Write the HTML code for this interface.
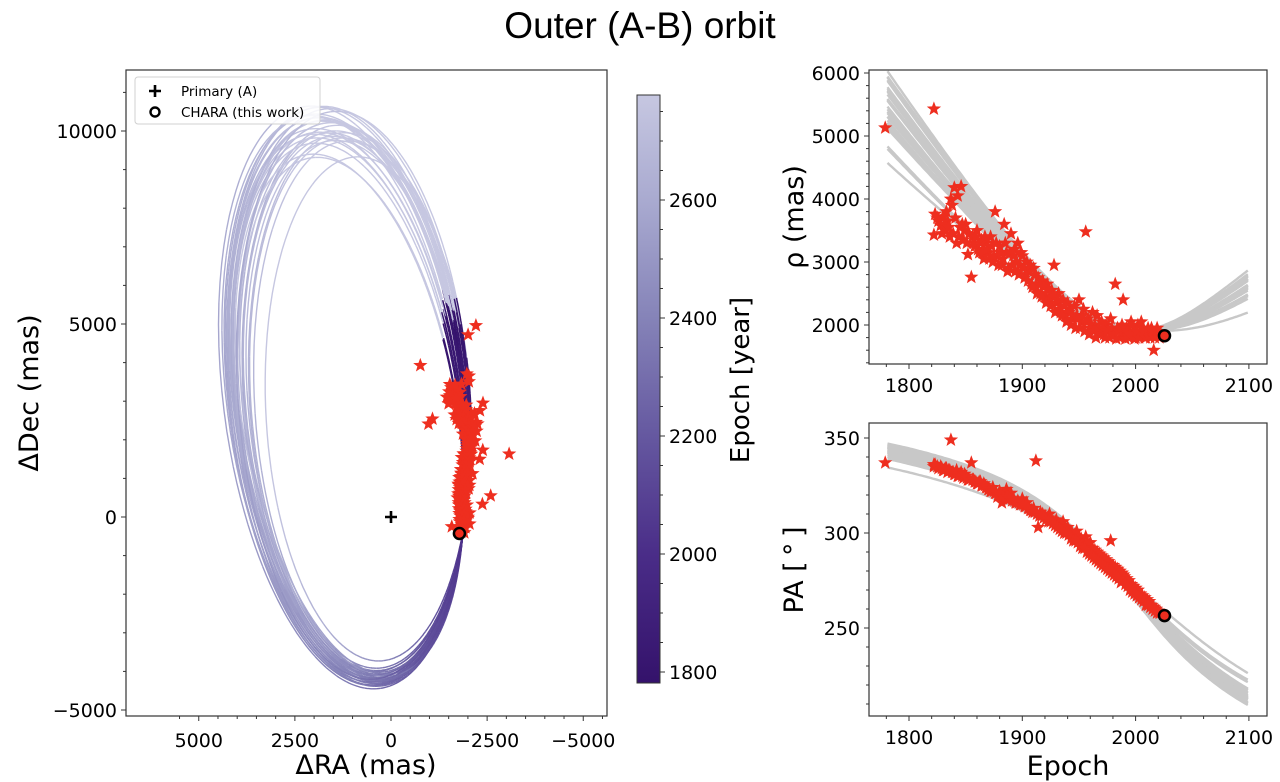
<!DOCTYPE html>
<html><head><meta charset="utf-8">
<style>
html,body{margin:0;padding:0;background:#fff;}
svg{display:block;}
text{font-family:"DejaVu Sans","Liberation Sans",sans-serif;fill:#000;}
</style></head>
<body>
<svg id="fig" width="1280" height="782" viewBox="0 0 1280 782" xmlns="http://www.w3.org/2000/svg">
<defs>
<clipPath id="clipMain"><rect x="126" y="70" width="481" height="646"/></clipPath>
<clipPath id="clipRho"><rect x="869" y="70" width="398" height="294"/></clipPath>
<clipPath id="clipPA"><rect x="869" y="423" width="398" height="293"/></clipPath>
<linearGradient id="cbGrad" x1="0" y1="1" x2="0" y2="0">
<stop offset="0" stop-color="#34126b"/><stop offset="0.22" stop-color="#4a2d88"/><stop offset="0.42" stop-color="#6558a0"/><stop offset="0.62" stop-color="#8583b8"/><stop offset="0.82" stop-color="#a9aad0"/><stop offset="1" stop-color="#c6c7e1"/>
</linearGradient>
</defs>
<text x="640" y="38" text-anchor="middle" style="font-family:'Liberation Sans',sans-serif;font-size:37px">Outer (A-B) orbit</text>
<g id="main"></g>
<g id="cbar"></g>
<g id="rho"></g>
<g id="pa"></g>
</svg>
<script>
// ---------- data ----------
const obsEpoch=[1779,1822,1822,1823,1826,1828,1830,1832,1834,1836,1837,1838,1840,1842,1843,1845,1846,1848,1850,1852,1855,1856,1858,1860,1862,1864,1866,1868,1870,1872,1874,1876,1878,1880,1882,1884,1886,1888,1890,1892,1894,1896,1898,1900,1902,1904,1906,1908,1910,1912,1914,1916,1918,1920,1922,1924,1926,1928,1930,1932,1934,1936,1938,1940,1942,1944,1946,1948,1950,1952,1954,1956,1958,1960,1962,1964,1966,1968,1970,1972,1974,1976,1978,1980,1982,1984,1986,1988,1989,1990,1992,1994,1996,1998,2000,2002,2004,2006,2008,2010,2012,2014,2016,2018,2020,2022,
1825,1829,1831,1833,1835,1839,1841,1844,1847,1849,1851,1853,1857,1859,1861,1863,1865,1867,1869,1871,1873,1875,1877,1879,1881,1883,1885,1887,1889,1891,1893,1895,1897,1899,1901,1903,1905,1907,1909,1911,1913,1915,1917,1919,1921,1923,1925,1927,1929,1931,1933,1935,1937,1939,1941,1943,1945,1947,1949,1951,1953,1955,1957,1959,1961,1963,1965,1967,1969,1971,1973,1975,1977,1979,1981,1983,1985,1987,1991,1993,1995,1997,1999,2001,2003,2005,2007,2009,2011,2013,2015,2017,2019,2021];
const obsRho=[5130,5430,3430,3760,3650,3580,3720,3500,3650,3400,4000,3900,4180,3300,4050,3550,4200,3350,3600,3120,2760,3400,3250,3500,3150,3350,3050,3300,3150,3400,3000,3800,3100,3250,2950,3600,3150,2900,3450,3100,2850,3300,2950,3100,2750,3000,2850,2650,2900,2600,2750,2500,2700,2450,2650,2400,2550,2950,2350,2500,2200,2400,2150,2350,2250,2100,2300,2150,2400,2050,2250,3480,2100,1950,2200,2000,2150,1900,2050,1850,2000,1900,2100,1850,2650,1950,1800,2000,2400,1850,1950,1800,2050,1900,1800,2000,1850,1950,1800,1900,1850,1950,1600,1900,1850,1870,
3700,3450,3600,3800,3550,3450,3700,3400,3600,3500,3300,3450,3300,3400,3200,3300,3150,3400,3200,3050,3250,3100,3300,2950,3150,3050,3300,2850,3150,2950,3200,3000,2800,3150,2900,2800,2700,2950,2600,2800,2500,2650,2450,2600,2350,2550,2300,2450,2200,2400,2250,2150,2300,2050,2200,2000,2150,1950,2100,1950,2150,1900,2050,1850,2000,1900,1800,1950,1850,1950,1800,1900,1800,1950,1850,1780,1900,1950,1780,1900,1850,2000,1780,1900,1800,2050,1900,1800,1950,1800,1900,1800,1950,1800];
const obsPA=[337,336,335,336,334,335,333,334,332,333,349,332,331,333,330,331,332,329,330,328,337,328,327,326,327,325,326,324,323,322,324,321,319,322,316,320,323,318,321,318,316,317,315,318,314,316,313,312,313,338,303,311,310,309,308,310,307,306,307,305,304,306,302,303,301,300,299,301,298,297,295,298,294,295,292,291,290,289,288,287,286,285,296,283,282,281,280,279,278,277,276,275,273,272,271,270,268,267,266,265,264,262,261,260,259,258,
335,334,333,334,333,332,331,330,330,331,329,328,328,327,326,327,325,325,324,323,322,322,321,320,320,319,318,319,318,317,317,316,316,315,315,314,313,312,311,311,310,309,309,308,307,306,306,305,304,303,302,301,300,300,299,297,296,296,295,293,292,292,290,289,288,287,286,285,284,283,282,281,280,279,278,277,276,274,273,272,270,269,268,267,266,265,264,262,262,261,260,259,258,258];
const charaEpoch=2025.5, charaRho=1830, charaPA=256.5;
// orbit model family (scale about CHARA point, rotation in deg, period in yr)
const orbScale=[0.96,0.93,0.98,0.91,0.95,0.99,0.92,0.94,0.97,0.90,1.00,0.93,0.95,0.89,0.96,0.92,0.98,0.94,0.91,0.97,0.86,0.93,0.99,0.95,0.90,0.96,0.94,0.97,0.92,0.98];
const orbRot=[0,1.2,-0.8,2.0,-1.5,0.6,-2.2,1.8,-0.4,2.6,-1.0,0.3,1.0,-2.8,-0.2,2.4,1.5,-1.2,0.8,-0.6,3.5,-1.8,0.2,1.1,-3.2,0.4,-2.0,2.2,0.7,-1.4];
const orbPeriod=[1000,1040,980,1080,1010,990,1060,1020,1000,1100,970,1050,1030,1120,1010,1070,995,1045,1090,1005,1250,1065,985,1025,1150,1035,1015,975,1055,1000];
const xTicksMain=[5000,2500,0,-2500,-5000];
const yTicksMain=[-5000,0,5000,10000];
const cbTicks=[1800,2000,2200,2400,2600];
const epochTicks=[1800,1900,2000,2100];
const rhoTicks=[2000,3000,4000,5000,6000];
const paTicks=[250,300,350];
const tMin=1781, tMax=2777;

// ---------- scales ----------
const xRA=ra=>391-ra*0.03845, yDec=d=>517-d*0.0386;
const xE=t=>909+(t-1800)*1.133;
const yR=v=>325-(v-2000)*0.063;
const yP=v=>628-(v-250)*1.9;
const yCB=t=>672-(t-1800)*0.59;

const NS='http://www.w3.org/2000/svg';
function mk(tag,attrs,parent){const e=document.createElementNS(NS,tag);for(const k in attrs)e.setAttribute(k,attrs[k]);parent.appendChild(e);return e;}
function txt(s,attrs,parent){const e=mk('text',attrs,parent);e.textContent=s;return e;}

// ---------- orbit model ----------
const C=[1200,3150],A=7600,B=3100,U=[0.11,0.994],V=[0.994,-0.11],P0=[-1780,-420];
const ECC=0.75,T_APO=1940,PHI_APO=254;
function kepE(M,e){let E=M;for(let i=0;i<40;i++){E-= (E-e*Math.sin(E)-M)/(1-e*Math.cos(E));}return E;}
function orbPos(t,k){
  const P=orbPeriod[k];const M=Math.PI+2*Math.PI*(t-T_APO)/P;
  const E=kepE(M,ECC);const phi=(PHI_APO*Math.PI/180)-(E-Math.PI);
  const ra=C[0]+A*Math.cos(phi)*U[0]+B*Math.sin(phi)*V[0];
  const de=C[1]+A*Math.cos(phi)*U[1]+B*Math.sin(phi)*V[1];
  const s=orbScale[k],r=orbRot[k]*Math.PI/180;
  const dx=ra-P0[0],dy=de-P0[1];
  return [P0[0]+s*(Math.cos(r)*dx-Math.sin(r)*dy),P0[1]+s*(Math.sin(r)*dx+Math.cos(r)*dy)];
}
function colourEpoch(t){return t<2200?t:Math.min(tMax,2200+(t-2200)*1.7);}
const stops=[[0,[52,18,107]],[0.22,[74,45,136]],[0.42,[101,88,160]],[0.62,[133,131,184]],[0.82,[169,170,208]],[1,[198,199,225]]];
function cmap(t){let f=(t-tMin)/(tMax-tMin);f=Math.max(0,Math.min(1,f));
  for(let i=1;i<stops.length;i++){if(f<=stops[i][0]){const a=stops[i-1],b=stops[i];const w=(f-a[0])/(b[0]-a[0]);
    const c=a[1].map((v,j)=>Math.round(v+(b[1][j]-v)*w));return `rgb(${c[0]},${c[1]},${c[2]})`;}}return 'rgb(198,199,225)';}
function starPts(cx,cy,R){let p=[];for(let i=0;i<10;i++){const r=i%2?R*0.42:R;const a=-Math.PI/2+i*Math.PI/5;p.push((cx+r*Math.cos(a)).toFixed(1)+','+(cy+r*Math.sin(a)).toFixed(1));}return p.join(' ');}
function obsRA(i){return obsRho[i]*Math.sin(obsPA[i]*Math.PI/180);}
function obsDec(i){return obsRho[i]*Math.cos(obsPA[i]*Math.PI/180);}

// ---------- main panel ----------
const main=document.getElementById('main');
const gLines=mk('g',{'clip-path':'url(#clipMain)'},main);


for(let k=0;k<orbScale.length;k++){
  const step=3;const tEnd=tMin+orbPeriod[k];
  for(let t0=tMin;t0<tEnd;t0+=step*4){
    let pts=[];
    for(let t=t0;t<=Math.min(t0+step*4,tEnd);t+=step){const p=orbPos(t,k);pts.push(xRA(p[0]).toFixed(1)+','+yDec(p[1]).toFixed(1));}
    const pl=mk('polyline',{points:pts.join(' '),fill:'none',stroke:cmap(colourEpoch(t0+step*2)),'stroke-width':1.4},gLines);
    
    
  }
}
const gStars=mk('g',{'clip-path':'url(#clipMain)'},main);
for(let i=0;i<obsEpoch.length;i++){
  const s=mk('polygon',{points:starPts(xRA(obsRA(i)),yDec(obsDec(i)),7.5),fill:'#ee2e1f'},gStars);
  
  
}
const prim=mk('path',{d:`M${xRA(0)-6},${yDec(0)}h12M${xRA(0)},${yDec(0)-6}v12`,stroke:'#000','stroke-width':2.6},main);


const chRA=charaRho*Math.sin(charaPA*Math.PI/180),chDec=charaRho*Math.cos(charaPA*Math.PI/180);
const chm=mk('circle',{cx:xRA(chRA),cy:yDec(chDec),r:5.5,fill:'#ee2e1f',stroke:'#000','stroke-width':2.5},main);


mk('rect',{x:126,y:70,width:481,height:646,fill:'none',stroke:'#333','stroke-width':1.2},main);
for(const v of xTicksMain){const x=xRA(v);mk('line',{x1:x,y1:716,x2:x,y2:721,stroke:'#333'},main);
  const l=txt(String(v).replace('-','\u2212'),{x:x,y:747,'text-anchor':'middle','font-size':19},main);
  
  }
for(let v=-6500;v<=5500;v+=500){if(v%2500===0)continue;const x=xRA(v);if(x<126||x>607)continue;mk('line',{x1:x,y1:716,x2:x,y2:719,stroke:'#333'},main);}
for(const v of yTicksMain){const y=yDec(v);mk('line',{x1:121,y1:y,x2:126,y2:y,stroke:'#333'},main);
  const l=txt(String(v).replace('-','\u2212'),{x:117,y:y+7,'text-anchor':'end','font-size':19},main);
  
  }
for(let v=-5000;v<=11000;v+=1000){if(v%5000===0)continue;const y=yDec(v);if(y<70||y>716)continue;mk('line',{x1:123,y1:y,x2:126,y2:y,stroke:'#333'},main);}
const xl=txt('\u0394RA (mas)',{x:366,y:774,'text-anchor':'middle','font-size':27},main);

const yl=txt('\u0394Dec (mas)',{x:0,y:0,'text-anchor':'middle','font-size':27,transform:'translate(38,393) rotate(-90)'},main);

// legend
const leg=mk('g',{},main);

mk('rect',{x:135,y:77,width:185,height:47,rx:3,fill:'#fff','fill-opacity':0.85,stroke:'#d0d0d0'},leg);
mk('path',{d:'M149,91h12M155,85v12',stroke:'#000','stroke-width':2.6},leg);
txt('Primary (A)',{x:181,y:96,'font-size':13.5},leg);
mk('circle',{cx:155,cy:112,r:4.5,fill:'#fff',stroke:'#000','stroke-width':2.4},leg);
txt('CHARA (this work)',{x:181,y:117,'font-size':13.5},leg);

// ---------- colorbar ----------
const cb=document.getElementById('cbar');
mk('rect',{x:637,y:95,width:23,height:588,fill:'url(#cbGrad)',stroke:'#333','stroke-width':1},cb);
for(const v of cbTicks){const y=yCB(v);mk('line',{x1:660,y1:y,x2:665,y2:y,stroke:'#333'},cb);
  const l=txt(String(v),{x:669,y:y+7,'font-size':19},cb);
  }
for(let v=1800;v<=2750;v+=50){if(v%200===0)continue;const y=yCB(v);mk('line',{x1:660,y1:y,x2:663,y2:y,stroke:'#333'},cb);}
const cbl=txt('Epoch [year]',{x:0,y:0,'text-anchor':'middle','font-size':26,transform:'translate(749,380) rotate(-90)'},cb);


// ---------- right panels ----------
function sidePanel(gid,clip,top,bot,yfun,valfun,obsVals,charaVal,yTicks,minorStep,yMinR,yMaxR,label,labY){
  const g=document.getElementById(gid);
  const gl=mk('g',{'clip-path':`url(#${clip})`},g);
  for(let k=0;k<orbScale.length;k++){let pts=[];
    for(let t=1781;t<=2100;t+=2){const p=orbPos(t,k);pts.push(xE(t).toFixed(1)+','+yfun(valfun(p)).toFixed(1));}
    const pl=mk('polyline',{points:pts.join(' '),fill:'none',stroke:'#c8c8c8','stroke-width':2.4},gl);
    
    }
  for(let i=0;i<obsEpoch.length;i++){
    const s=mk('polygon',{points:starPts(xE(obsEpoch[i]),yfun(obsVals[i]),7.5),fill:'#ee2e1f'},gl);
    
    }
  const c=mk('circle',{cx:xE(charaEpoch),cy:yfun(charaVal),r:5.5,fill:'#ee2e1f',stroke:'#000','stroke-width':2.5},g);
  
  mk('rect',{x:869,y:top,width:398,height:bot-top,fill:'none',stroke:'#333','stroke-width':1.2},g);
  for(const v of epochTicks){const x=xE(v);mk('line',{x1:x,y1:bot,x2:x,y2:bot+5,stroke:'#333'},g);
    const l=txt(String(v),{x:x,y:bot+28,'text-anchor':'middle','font-size':19},g);
    }
  for(let v=1780;v<=2110;v+=20){if(v%100===0)continue;const x=xE(v);mk('line',{x1:x,y1:bot,x2:x,y2:bot+3,stroke:'#333'},g);}
  for(const v of yTicks){const y=yfun(v);mk('line',{x1:864,y1:y,x2:869,y2:y,stroke:'#333'},g);
    const l=txt(String(v),{x:860,y:y+7,'text-anchor':'end','font-size':19},g);
    }
  for(let v=yMinR;v<=yMaxR;v+=minorStep){const y=yfun(v);if(y<top||y>bot)continue;mk('line',{x1:866,y1:y,x2:869,y2:y,stroke:'#333'},g);}
  const yl=txt(label,{x:0,y:0,'text-anchor':'middle','font-size':27,transform:`translate(803,${labY}) rotate(-90)`},g);
  
}
sidePanel('rho','clipRho',70,364,yR,p=>Math.hypot(p[0],p[1]),obsRho,charaRho,rhoTicks,200,1400,6000,'\u03C1 (mas)',217);
sidePanel('pa','clipPA',423,716,yP,p=>{let a=Math.atan2(p[0],p[1])*180/Math.PI;return a<0?a+360:a;},obsPA,charaPA,paTicks,10,200,360,'PA [\u2009\u00B0\u2009]',570);
const el=txt('Epoch',{x:1068,y:775,'text-anchor':'middle','font-size':27},document.getElementById('pa'));

</script>
</body></html>
